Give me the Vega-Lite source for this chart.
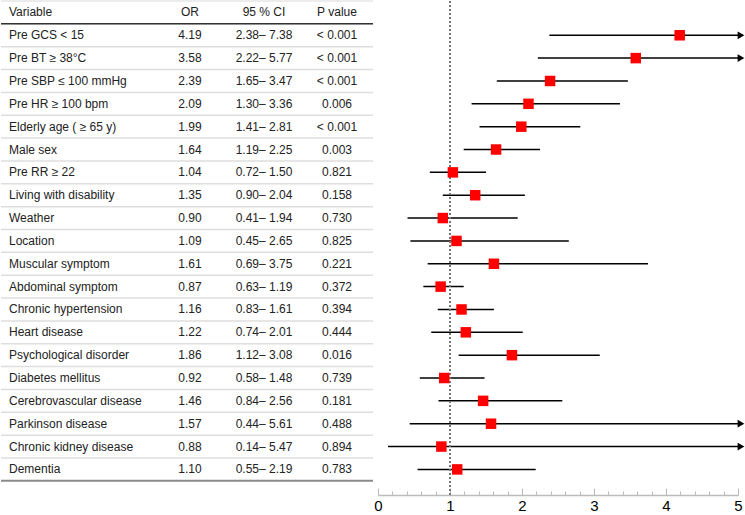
{
  "$schema": "https://vega.github.io/schema/vega-lite/v6.json",
  "padding": 0,
  "spacing": 5,
  "bounds": "flush",
  "background": "white",
  "config": {"view": {"stroke": null}, "font": "Liberation Sans", "text": {"font": "Liberation Sans"}},
  "datasets": {
    "rows": [
      {"Variable": "Pre GCS < 15", "OR": 4.19, "lo": 2.38, "hi": 7.38, "CI": "2.38– 7.38", "P": "< 0.001"},
      {"Variable": "Pre BT ≥ 38°C", "OR": 3.58, "lo": 2.22, "hi": 5.77, "CI": "2.22– 5.77", "P": "< 0.001"},
      {"Variable": "Pre SBP ≤ 100 mmHg", "OR": 2.39, "lo": 1.65, "hi": 3.47, "CI": "1.65– 3.47", "P": "< 0.001"},
      {"Variable": "Pre HR ≥ 100 bpm", "OR": 2.09, "lo": 1.30, "hi": 3.36, "CI": "1.30– 3.36", "P": "0.006"},
      {"Variable": "Elderly age ( ≥ 65 y)", "OR": 1.99, "lo": 1.41, "hi": 2.81, "CI": "1.41– 2.81", "P": "< 0.001"},
      {"Variable": "Male sex", "OR": 1.64, "lo": 1.19, "hi": 2.25, "CI": "1.19– 2.25", "P": "0.003"},
      {"Variable": "Pre RR ≥ 22", "OR": 1.04, "lo": 0.72, "hi": 1.50, "CI": "0.72– 1.50", "P": "0.821"},
      {"Variable": "Living with disability", "OR": 1.35, "lo": 0.90, "hi": 2.04, "CI": "0.90– 2.04", "P": "0.158"},
      {"Variable": "Weather", "OR": 0.90, "lo": 0.41, "hi": 1.94, "CI": "0.41– 1.94", "P": "0.730"},
      {"Variable": "Location", "OR": 1.09, "lo": 0.45, "hi": 2.65, "CI": "0.45– 2.65", "P": "0.825"},
      {"Variable": "Muscular symptom", "OR": 1.61, "lo": 0.69, "hi": 3.75, "CI": "0.69– 3.75", "P": "0.221"},
      {"Variable": "Abdominal symptom", "OR": 0.87, "lo": 0.63, "hi": 1.19, "CI": "0.63– 1.19", "P": "0.372"},
      {"Variable": "Chronic hypertension", "OR": 1.16, "lo": 0.83, "hi": 1.61, "CI": "0.83– 1.61", "P": "0.394"},
      {"Variable": "Heart disease", "OR": 1.22, "lo": 0.74, "hi": 2.01, "CI": "0.74– 2.01", "P": "0.444"},
      {"Variable": "Psychological disorder", "OR": 1.86, "lo": 1.12, "hi": 3.08, "CI": "1.12– 3.08", "P": "0.016"},
      {"Variable": "Diabetes mellitus", "OR": 0.92, "lo": 0.58, "hi": 1.48, "CI": "0.58– 1.48", "P": "0.739"},
      {"Variable": "Cerebrovascular disease", "OR": 1.46, "lo": 0.84, "hi": 2.56, "CI": "0.84– 2.56", "P": "0.181"},
      {"Variable": "Parkinson disease", "OR": 1.57, "lo": 0.44, "hi": 5.61, "CI": "0.44– 5.61", "P": "0.488"},
      {"Variable": "Chronic kidney disease", "OR": 0.88, "lo": 0.14, "hi": 5.47, "CI": "0.14– 5.47", "P": "0.894"},
      {"Variable": "Dementia", "OR": 1.10, "lo": 0.55, "hi": 2.19, "CI": "0.55– 2.19", "P": "0.783"}
    ],
    "header": [
      {"Variable": "Variable", "OR": "OR", "CI": "95 % CI", "P": "P value"}
    ]
  },
  "hconcat": [
    {
      "width": 372,
      "height": 494,
      "data": {"name": "rows"},
      "encoding": {
        "y": {"field": "Variable", "type": "nominal", "axis": null,
          "scale": {"type": "band", "domain": ["Variable", "Pre GCS < 15", "Pre BT ≥ 38°C", "Pre SBP ≤ 100 mmHg", "Pre HR ≥ 100 bpm", "Elderly age ( ≥ 65 y)", "Male sex", "Pre RR ≥ 22", "Living with disability", "Weather", "Location", "Muscular symptom", "Abdominal symptom", "Chronic hypertension", "Heart disease", "Psychological disorder", "Diabetes mellitus", "Cerebrovascular disease", "Parkinson disease", "Chronic kidney disease", "Dementia"], "paddingInner": 0, "paddingOuter": 0.31, "align": 0}}
      },
      "layer": [
        {"mark": {"type": "rule", "color": "#dedede", "strokeWidth": 1.5},
         "encoding": {"y": {"field": "Variable", "type": "nominal", "bandPosition": 0}}},
        {"data": {"name": "header"},
         "mark": {"type": "rule", "color": "#e6e6e6", "strokeWidth": 1.5},
         "encoding": {"y": {"field": "Variable", "type": "nominal", "bandPosition": 0}}},
        {"data": {"name": "header"},
         "mark": {"type": "rule", "color": "#333333", "strokeWidth": 1.5},
         "encoding": {"y": {"field": "Variable", "type": "nominal", "bandPosition": 1}}},
        {"mark": {"type": "rule", "color": "#8a8a8a", "strokeWidth": 2},
         "transform": [{"filter": "datum.Variable === 'Dementia'"}],
         "encoding": {"y": {"field": "Variable", "type": "nominal", "bandPosition": 1}}},
        {"mark": {"type": "text", "align": "left", "baseline": "middle", "fontSize": 12, "color": "#222"},
         "encoding": {"x": {"datum": 8, "type": "quantitative", "scale": {"domain": [0, 372]}, "axis": null},
                      "text": {"field": "Variable"}}},
        {"mark": {"type": "text", "align": "center", "baseline": "middle", "fontSize": 12, "color": "#222"},
         "encoding": {"x": {"datum": 189, "type": "quantitative", "scale": {"domain": [0, 372]}, "axis": null},
                      "text": {"field": "OR", "format": ".2f"}}},
        {"mark": {"type": "text", "align": "center", "baseline": "middle", "fontSize": 12, "color": "#222"},
         "encoding": {"x": {"datum": 263, "type": "quantitative", "scale": {"domain": [0, 372]}, "axis": null},
                      "text": {"field": "CI"}}},
        {"mark": {"type": "text", "align": "center", "baseline": "middle", "fontSize": 12, "color": "#222"},
         "encoding": {"x": {"datum": 336, "type": "quantitative", "scale": {"domain": [0, 372]}, "axis": null},
                      "text": {"field": "P"}}},
        {"data": {"name": "header"},
         "mark": {"type": "text", "align": "left", "baseline": "middle", "fontSize": 12, "color": "#222"},
         "encoding": {"x": {"datum": 8, "type": "quantitative", "scale": {"domain": [0, 372]}, "axis": null},
                      "text": {"field": "Variable"}}},
        {"data": {"name": "header"},
         "mark": {"type": "text", "align": "center", "baseline": "middle", "fontSize": 12, "color": "#222"},
         "encoding": {"x": {"datum": 189, "type": "quantitative", "scale": {"domain": [0, 372]}, "axis": null},
                      "text": {"field": "OR"}}},
        {"data": {"name": "header"},
         "mark": {"type": "text", "align": "center", "baseline": "middle", "fontSize": 12, "color": "#222"},
         "encoding": {"x": {"datum": 263, "type": "quantitative", "scale": {"domain": [0, 372]}, "axis": null},
                      "text": {"field": "CI"}}},
        {"data": {"name": "header"},
         "mark": {"type": "text", "align": "center", "baseline": "middle", "fontSize": 12, "color": "#222"},
         "encoding": {"x": {"datum": 336, "type": "quantitative", "scale": {"domain": [0, 372]}, "axis": null},
                      "text": {"field": "P"}}}
      ]
    },
    {
      "width": 360,
      "height": 494,
      "data": {"name": "rows"},
      "resolve": {"axis": {"x": "independent"}},
      "layer": [
        {"mark": {"type": "rule", "color": "#000", "strokeWidth": 1.5, "clip": true},
         "encoding": {
           "x": {"field": "lo", "type": "quantitative",
            "scale": {"domain": [0, 5], "nice": false, "zero": true},
            "axis": {"title": null, "grid": false, "orient": "bottom",
              "values": [0, 0.2, 0.4, 0.6, 0.8, 1, 1.2, 1.4, 1.6, 1.8, 2, 2.2, 2.4, 2.6, 2.8, 3, 3.2, 3.4, 3.6, 3.8, 4, 4.2, 4.4, 4.6, 4.8, 5],
              "labels": false,
              "domainColor": "#bbbbbb", "domainWidth": 1.5, "tickColor": "#bbbbbb", "tickWidth": 1,
              "tickSize": -4}},
           "x2": {"field": "hi"},
           "y": {"field": "Variable", "type": "nominal", "axis": null,
            "scale": {"type": "band", "domain": ["Variable", "Pre GCS < 15", "Pre BT ≥ 38°C", "Pre SBP ≤ 100 mmHg", "Pre HR ≥ 100 bpm", "Elderly age ( ≥ 65 y)", "Male sex", "Pre RR ≥ 22", "Living with disability", "Weather", "Location", "Muscular symptom", "Abdominal symptom", "Chronic hypertension", "Heart disease", "Psychological disorder", "Diabetes mellitus", "Cerebrovascular disease", "Parkinson disease", "Chronic kidney disease", "Dementia"], "paddingInner": 0, "paddingOuter": 0.31, "align": 0}}}},
        {"mark": {"type": "rule", "color": "#777777", "strokeWidth": 1.5, "strokeDash": [2, 2]},
         "encoding": {"x": {"datum": 1, "type": "quantitative",
            "axis": {"title": null, "grid": false, "orient": "bottom", "values": [0, 1, 2, 3, 4, 5], "format": "d",
              "domain": false, "tickColor": "#bbbbbb", "tickWidth": 1, "tickSize": -7,
              "labelFontSize": 15, "labelColor": "#000", "labelFont": "Liberation Sans",
              "labelPadding": 10, "labelFlush": false, "labelOverlap": false}}}},
        {"transform": [{"filter": "datum.hi > 5"}],
         "mark": {"type": "point", "shape": "triangle-right", "filled": true, "color": "#000", "opacity": 1, "size": 60, "xOffset": 3},
         "encoding": {"x": {"datum": 5, "type": "quantitative", "axis": null},
                      "y": {"field": "Variable", "type": "nominal"}}},
        {"mark": {"type": "point", "shape": "square", "filled": true, "color": "#ff0000", "opacity": 1, "size": 110},
         "encoding": {"x": {"field": "OR", "type": "quantitative", "axis": null},
                      "y": {"field": "Variable", "type": "nominal"}}}
      ]
    }
  ]
}
